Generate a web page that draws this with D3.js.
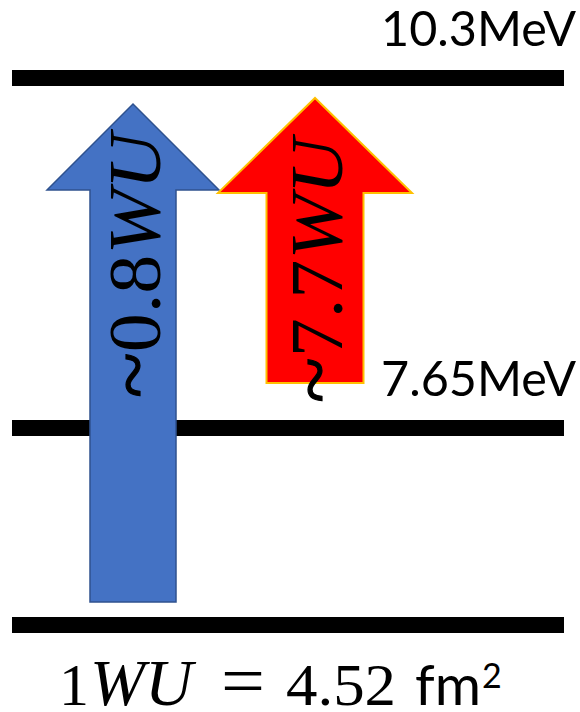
<!DOCTYPE html>
<html>
<head>
<meta charset="utf-8">
<script src="https://cdn.jsdelivr.net/npm/d3@7"></script>
<style>
  html, body { margin: 0; padding: 0; background: #ffffff; }
  svg { display: block; }
</style>
</head>
<body>
<div id="chart"></div>
<script>
// Energy levels (MeV) and their labels (the ground state is unlabelled)
const levelEnergies = [0, 7.65, 10.3];
const levelLabels = ["", "7.65MeV", "10.3MeV"];

// Transitions between levels and their strengths in Weisskopf units
const transitionFrom = [0, 7.65];
const transitionTo = [10.3, 10.3];
const transitionStrengths = [0.8, 7.7];

// Unit conversion shown under the diagram
const wuValue = 4.52;

const width = 580, height = 712;

const svg = d3.select("#chart").append("svg")
  .attr("width", width)
  .attr("height", height)
  .attr("viewBox", [0, 0, width, height]);

// Schematic (piecewise) energy axis
const y = d3.scaleLinear()
  .domain(levelEnergies)
  .range([625, 428, 78]);

// Horizontal placement of the transition arrows
const x = d3.scalePoint()
  .domain(transitionStrengths.map(String))
  .range([133, 315]);

const levelX0 = 12, levelX1 = 564;

// Level bars
svg.append("g")
  .selectAll("line")
  .data(levelEnergies)
  .join("line")
  .attr("x1", levelX0)
  .attr("x2", levelX1)
  .attr("y1", d => y(d))
  .attr("y2", d => y(d))
  .attr("stroke", "#000")
  .attr("stroke-width", 16);

// Level labels
svg.append("g")
  .selectAll("text")
  .data(levelEnergies.map((e, i) => ({ e, label: levelLabels[i] })).filter(d => d.label))
  .join("text")
  .attr("x", 576)
  .attr("y", d => y(d.e) - 32)
  .attr("text-anchor", "end")
  .attr("font-family", "Lato, 'Open Sans', sans-serif")
  .attr("font-size", 48.5)
  .attr("fill", "#000")
  .text(d => d.label);

// Arrow drawing styles
const arrowStyle = [
  { fill: "#4472C4", stroke: "#2F528F", strokeWidth: 1.5, shaft: 43, head: 86, headLen: 86, padBottom: 23, padTop: 26 },
  { fill: "#FF0000", stroke: "#FFC000", strokeWidth: 2, shaft: 48.5, head: 97, headLen: 95, padBottom: 45, padTop: 20 }
];

const transitions = transitionStrengths.map((s, i) => ({
  from: transitionFrom[i],
  to: transitionTo[i],
  strength: s,
  style: arrowStyle[i]
}));

function arrowPath(d) {
  const cx = x(String(d.strength));
  const st = d.style;
  const bottom = y(d.from) - st.padBottom;
  const tip = y(d.to) + st.padTop;
  const base = tip + st.headLen;
  const p = d3.path();
  p.moveTo(cx - st.shaft, bottom);
  p.lineTo(cx - st.shaft, base);
  p.lineTo(cx - st.head, base);
  p.lineTo(cx, tip);
  p.lineTo(cx + st.head, base);
  p.lineTo(cx + st.shaft, base);
  p.lineTo(cx + st.shaft, bottom);
  p.closePath();
  return p.toString();
}

const arrows = svg.append("g")
  .selectAll("g")
  .data(transitions)
  .join("g");

arrows.append("path")
  .attr("d", arrowPath)
  .attr("fill", d => d.style.fill)
  .attr("stroke", d => d.style.stroke)
  .attr("stroke-width", d => d.style.strokeWidth)
  .attr("stroke-linejoin", "miter");

// Strength labels, written upward along each arrow
const startY = [398, 403];
arrows.append("text")
  .attr("transform", (d, i) => `translate(${x(String(d.strength)) + 27},${startY[i]}) rotate(-90)`)
  .attr("font-family", "'Liberation Serif', 'DejaVu Serif', serif")
  .attr("font-size", 74)
  .attr("fill", "#000")
  .attr("textLength", 265)
  .attr("lengthAdjust", "spacingAndGlyphs")
  .each(function(d) {
    const t = d3.select(this);
    t.append("tspan")
      .attr("font-size", 80)
      .attr("stroke", "#000")
      .attr("stroke-width", 1.2)
      .text("~");
    t.append("tspan").text(String(d.strength));
    t.append("tspan").attr("font-style", "italic").text("WU");
  });

// Unit definition line
const baseY = 705;
const serif = "'Liberation Serif', 'DejaVu Serif', serif";
const sans = "Lato, 'Open Sans', sans-serif";
const formulaParts = [
  { text: "1", x: 59, size: 60, family: serif, italic: false, len: null },
  { text: "WU", x: 90, size: 66, family: serif, italic: true, len: null },
  { text: "=", x: 221, size: 72, family: serif, italic: false, len: 44 },
  { text: String(wuValue), x: 286, size: 60, family: serif, italic: false, len: 110 },
  { text: "fm", x: 415, size: 56, family: sans, italic: false, len: 66 }
];
const formula = svg.append("g");
formula.selectAll("text")
  .data(formulaParts)
  .join("text")
  .attr("x", d => d.x)
  .attr("y", baseY)
  .attr("font-family", d => d.family)
  .attr("font-size", d => d.size)
  .attr("font-style", d => d.italic ? "italic" : "normal")
  .attr("textLength", d => d.len)
  .attr("lengthAdjust", "spacingAndGlyphs")
  .attr("fill", "#000")
  .text(d => d.text);
formula.append("text")
  .attr("x", 482)
  .attr("y", 688)
  .attr("font-family", sans)
  .attr("font-size", 34)
  .attr("fill", "#000")
  .text("2");
</script>
</body>
</html>
